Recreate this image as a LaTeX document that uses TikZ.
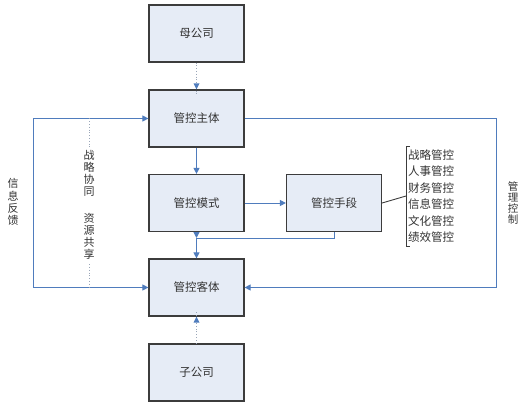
\documentclass[tikz,border=0pt]{standalone}
\usepackage{fontspec}
\newfontfamily\cjk{Noto Sans CJK SC}
\usetikzlibrary{arrows.meta}
\definecolor{boxfill}{HTML}{E6ECF6}
\definecolor{boxline}{HTML}{3C3C3C}
\definecolor{arrowblue}{HTML}{4F7CBD}
\definecolor{dotgrey}{HTML}{9AA6B8}
\definecolor{txt}{HTML}{333333}
\tikzset{
  boxnode/.style={draw=boxline, line width=1.2pt, fill=boxfill, minimum width=95pt, minimum height=57pt, inner sep=0pt, font=\cjk\fontsize{11.5}{13}\selectfont, text=txt},
  blueline/.style={draw=arrowblue, line width=1pt},
  tip/.style={-{Triangle[length=6pt,width=6pt]}},
  dotline/.style={draw=dotgrey, line width=0.8pt, dotted},
  vtext/.style={align=center, inner sep=0pt, font=\cjk\fontsize{11}{12.2}\selectfont, text=txt},
}
\begin{document}
\begin{tikzpicture}[x=1pt,y=-1pt]
\useasboundingbox (0,0) rectangle (524,406);
\node[boxnode] (mu) at (196.5,33.5) {母公司};
\node[boxnode] (zhuti) at (196.5,118.5) {管控主体};
\node[boxnode] (moshi) at (196.5,203) {管控模式};
\node[boxnode] (shouduan) at (334,203) {管控手段};
\node[boxnode] (keti) at (196.5,287.5) {管控客体};
\node[boxnode] (zi) at (196.5,372.5) {子公司};
% coordinates
\coordinate (l1) at (33,118.5);
\coordinate (l2) at (33,287.5);
\coordinate (r1) at (496,118.5);
\coordinate (r2) at (496,287.5);
\coordinate (j) at (196.5,238);
\coordinate (d1) at (89,118.5);
\coordinate (d2) at (89,287.5);
\coordinate (bt) at (406,146);
\coordinate (bb) at (406,246);
\coordinate (bm) at (406,196);
% dotted arrows
\draw[dotline] (mu.south) -- ([yshift=-6pt]zhuti.north);
\fill[arrowblue] (zhuti.north) -- ++(-3,-6) -- ++(6,0) -- cycle;
\draw[dotline] (zi.north) -- ([yshift=6pt]keti.south);
\fill[arrowblue] (keti.south) -- ++(-3,6) -- ++(6,0) -- cycle;
% blue arrows
\draw[blueline,tip] (zhuti.south) -- (moshi.north);
\draw[blueline,tip] (moshi.east) -- (shouduan.west);
\draw[blueline,tip] (moshi.south) -- (j);
\draw[blueline] (shouduan.south) |- (j);
\draw[blueline,tip] (j) -- (keti.north);
\draw[blueline,{Triangle[length=6pt,width=6pt]}-{Triangle[length=6pt,width=6pt]}] (zhuti.west) -- (l1) -- (l2) -- (keti.west);
\draw[blueline,tip] (zhuti.east) -- (r1) -- (r2) -- (keti.east);
% dotted vertical
\draw[dotline] (d1) -- (d2);
\node[vtext, fill=white, inner ysep=2pt] (xietong) at (89,205) {战\\略\\协\\同\\[2pt]\mbox{}\\资\\源\\共\\享};
\node[vtext] (fankui) at (13,202) {信\\息\\反\\馈};
\node[vtext, font=\cjk\fontsize{10.5}{11.2}\selectfont] (kongzhi) at (513,203) {管\\理\\控\\制};
% bracket
\draw[boxline, line width=0.9pt] ([xshift=4pt]bt) -- (bt) -- (bb) -- ([xshift=4pt]bb);
\draw[boxline, line width=0.9pt] (shouduan.east) -- (bm);
\node[align=left, anchor=west, inner sep=0pt, font=\cjk\fontsize{11.5}{16.5}\selectfont, text=txt] (list) at (408,196) {战略管控\\人事管控\\财务管控\\信息管控\\文化管控\\绩效管控};
\end{tikzpicture}
\end{document}
